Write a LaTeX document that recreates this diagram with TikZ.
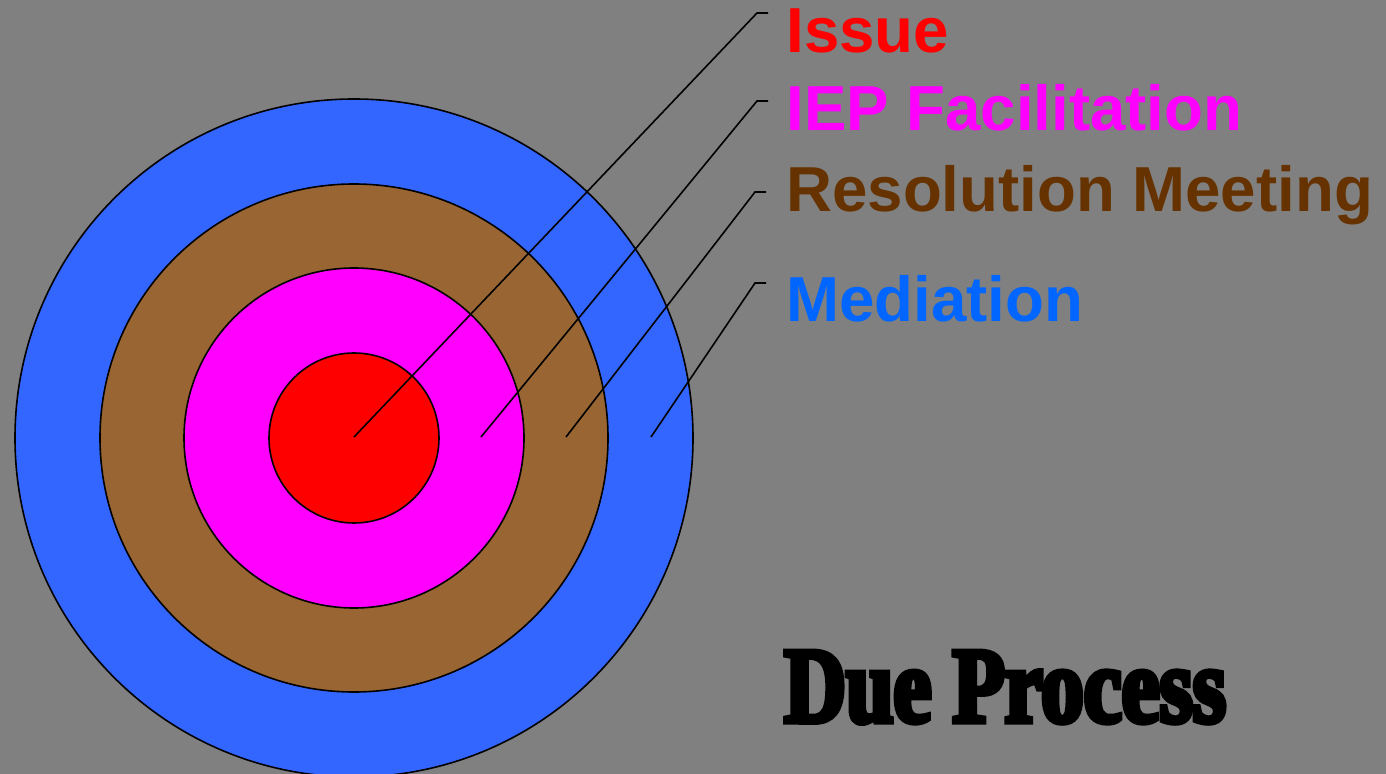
\documentclass[tikz,border=0pt]{standalone}
\usepackage{fontspec}
\setmainfont{Liberation Sans}
\newfontfamily\duefont{Liberation Serif}[UprightFont=* Bold, FakeStretch=0.79, FakeBold=5]
\usepackage{xcolor}
\usepackage{tikz}
\usetikzlibrary{positioning}
\definecolor{bggray}{HTML}{808080}
\definecolor{ringblue}{HTML}{3366FF}
\definecolor{ringbrown}{HTML}{996633}
\definecolor{ringpink}{HTML}{FF00FF}
\definecolor{ringred}{HTML}{FF0000}
\definecolor{txtbrown}{HTML}{663300}
\definecolor{txtblue}{HTML}{0066FF}
\tikzstyle{ring} = [draw=black, line width=0.8pt]
\tikzstyle{label} = [anchor=base west, inner sep=0pt, font=\fontsize{31.8}{34}\selectfont\bfseries]
\tikzstyle{leader} = [draw=black, line width=0.8pt]

\begin{document}
\begin{tikzpicture}[x=0.5pt, y=-0.5pt]
        \fill[bggray] (0,0) rectangle (1386,774);
        \useasboundingbox (0,0) rectangle (1386,774);

        % Zielscheibe
        \coordinate (c) at (354,438);
        \filldraw [ring, fill=ringblue] (c) circle (339);
        \filldraw [ring, fill=ringbrown] (c) circle (254);
        \filldraw [ring, fill=ringpink] (c) circle (170);
        \filldraw [ring, fill=ringred] (c) circle (85);

        \node (issue) [label, text=ringred] at (786,53) {Issue};
        \node (iep) [label, text=ringpink] at (786,131) {IEP Facilitation};
        \node (res) [label, text=txtbrown] at (786,212) {Resolution Meeting};
        \node (med) [label, text=txtblue] at (786,322) {Mediation};

        \coordinate (p1) at (354,437);
        \coordinate (p2) at (481,437);
        \coordinate (p3) at (566,437);
        \coordinate (p4) at (651,437);
        \coordinate (k1) at (757,13);
        \coordinate (k2) at (757,101);
        \coordinate (k3) at (755,192);
        \coordinate (k4) at (755,283);

        % Hinweislinien
        \draw [leader] (p1) -- (k1) -- ++(11,0);
        \draw [leader] (p2) -- (k2) -- ++(11,0);
        \draw [leader] (p3) -- (k3) -- ++(11,0);
        \draw [leader] (p4) -- (k4) -- ++(11,0);

        \node (title) [anchor=base west, inner sep=0pt, font=\duefont\fontsize{54}{60}\selectfont] at (784,722) {Due Process};
\end{tikzpicture}
\end{document}
